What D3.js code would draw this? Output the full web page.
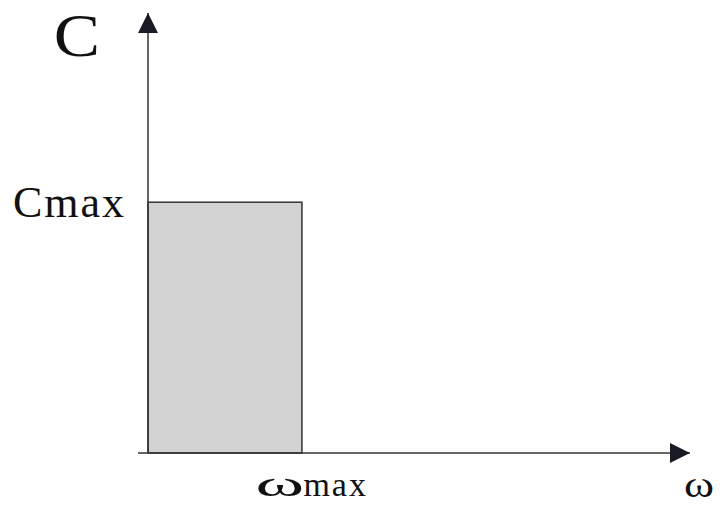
<!DOCTYPE html>
<html>
<head>
<meta charset="utf-8">
<script src="https://cdn.jsdelivr.net/npm/d3@7"></script>
<style>
  body { margin: 0; background: #fff; }
  text { font-family: "Liberation Serif", "DejaVu Serif", serif; fill: #111; }
</style>
</head>
<body>
<div id="chart"></div>
<script>
// dữ liệu: một khối chữ nhật từ 0 đến ωmax, cao Cmax
const xNames = ["ωmax"];
const xValues = [0.284];
const yNames = ["Cmax"];
const yValues = [0.57];
const axisTitles = ["ω", "C"];

const W = 723, H = 506;
const x0 = 148, x1 = 690, y0 = 453, y1 = 13;

const svg = d3.select("#chart").append("svg")
    .attr("width", W).attr("height", H);

const x = d3.scaleLinear().domain([0, 1]).range([x0, x1]);
const y = d3.scaleLinear().domain([0, 1]).range([y0, y1]);

// khối màu xám
svg.append("rect")
    .attr("x", x(0))
    .attr("y", y(yValues[0]))
    .attr("width", x(xValues[0]) - x(0))
    .attr("height", y(0) - y(yValues[0]))
    .attr("fill", "#d2d2d2")
    .attr("stroke", "#333")
    .attr("stroke-width", 1.5);

// mũi tên
const defs = svg.append("defs");
defs.append("marker")
    .attr("id", "arrow")
    .attr("viewBox", "0 0 10 10")
    .attr("refX", 10).attr("refY", 5)
    .attr("markerWidth", 22).attr("markerHeight", 20)
    .attr("markerUnits", "userSpaceOnUse")
    .attr("orient", "auto")
    .append("path")
    .attr("d", "M0,0L10,5L0,10Z")
    .attr("fill", "#1a1a24");

// trục x
svg.append("line")
    .attr("x1", x0 - 10).attr("y1", y0)
    .attr("x2", x1).attr("y2", y0)
    .attr("stroke", "#333").attr("stroke-width", 1.5)
    .attr("marker-end", "url(#arrow)");

// trục y
svg.append("line")
    .attr("x1", x0).attr("y1", y0)
    .attr("x2", x0).attr("y2", y1)
    .attr("stroke", "#333").attr("stroke-width", 1.5)
    .attr("marker-end", "url(#arrow)");

// nhãn trục x: chữ ω được kéo rộng ra như hình gốc
const gx = svg.append("g")
    .attr("transform", "translate(0," + y0 + ")")
    .call(d3.axisBottom(x).tickValues(xValues).tickSize(0).tickFormat((d, i) => xNames[i]));
gx.select(".domain").remove();
gx.selectAll(".tick").each(function (d, i) {
    const g = d3.select(this);
    g.select("text")
        .attr("x", 1).attr("y", 43).attr("dy", null)
        .attr("text-anchor", "start")
        .attr("font-size", 34)
        .attr("letter-spacing", 2)
        .text(xNames[i].slice(1));
    g.append("text")
        .attr("text-anchor", "start")
        .attr("transform", "translate(-47,43) scale(2.05,1)")
        .attr("font-size", 36)
        .text(xNames[i].slice(0, 1));
});

// nhãn trục y
const gy = svg.append("g")
    .attr("transform", "translate(" + x0 + ",0)")
    .call(d3.axisLeft(y).tickValues(yValues).tickSize(0).tickFormat((d, i) => yNames[i]));
gy.select(".domain").remove();
gy.selectAll(".tick text")
    .attr("x", -22).attr("dy", "0.33em")
    .attr("font-size", 44)
    .attr("letter-spacing", 2)
    .attr("text-anchor", "end");

// tiêu đề trục
svg.append("text")
    .attr("x", 77).attr("y", 56)
    .attr("text-anchor", "middle")
    .attr("font-size", 62)
    .attr("transform", "translate(77,56) scale(1.12,1) translate(-77,-56)")
    .text(axisTitles[1]);

svg.append("text")
    .attr("x", 684).attr("y", 497)
    .attr("font-size", 38)
    .attr("transform", "translate(684,497) scale(1.2,1) translate(-684,-497)")
    .text(axisTitles[0]);
</script>
</body>
</html>
